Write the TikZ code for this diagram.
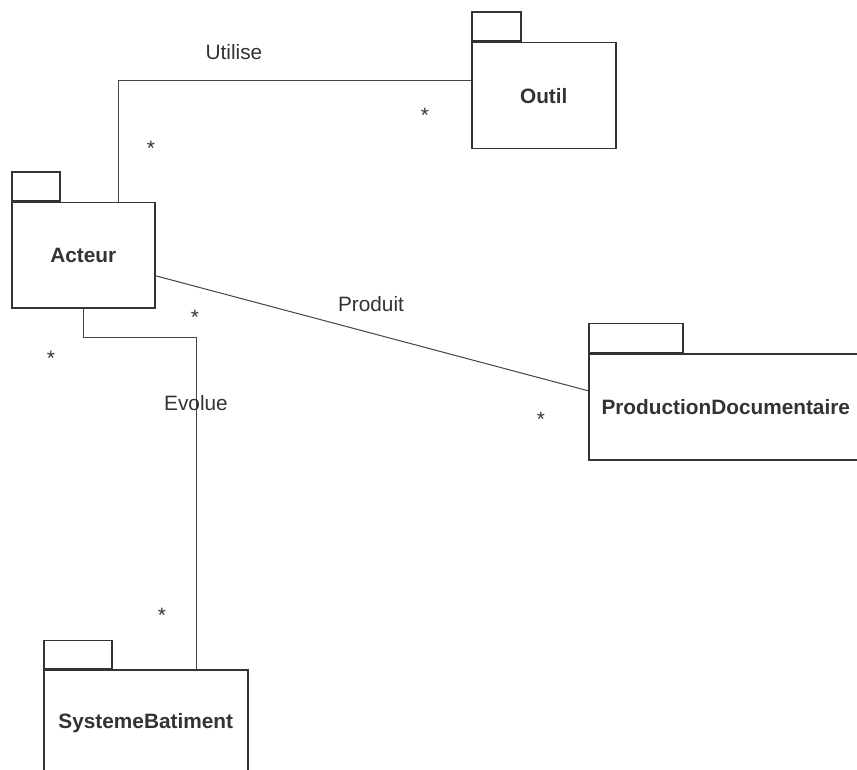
\documentclass[tikz,border=0pt]{standalone}
\usepackage{fontspec}
\setmainfont{Liberation Sans}
\begin{document}
\begin{tikzpicture}[x=1pt,y=-1pt,
  pkgbody/.style={draw=boxcol, line width=1.5pt, anchor=north west, inner sep=0pt,
    font=\fontsize{20.8}{24}\selectfont\bfseries, text=txtcol},
  pkgtab/.style={draw=boxcol, line width=1.5pt, anchor=south west, inner sep=0pt, minimum height=29pt},
  conn/.style={draw=linecol, line width=1pt},
  lbl/.style={font=\fontsize{20.8}{24}\selectfont, text=txtcol, inner sep=0pt},
  mult/.style={font=\fontsize{20.8}{24}\selectfont, text=txtcol, inner sep=0pt, anchor=base}]
\definecolor{boxcol}{HTML}{333333}
\definecolor{linecol}{HTML}{444444}
\definecolor{txtcol}{HTML}{333333}
\clip (0,0) rectangle (857,770);
\fill[white] (0,0) rectangle (857,770);

% packages
\node[pkgbody, minimum width=143pt, minimum height=105pt] (acteur) at (11,202) {Acteur};
\node[pkgtab, minimum width=48pt] (acteurtab) at (acteur.north west) {};

\node[pkgbody, minimum width=144pt, minimum height=106pt] (outil) at (471,42) {Outil};
\node[pkgtab, minimum width=49pt] (outiltab) at (outil.north west) {};

\node[pkgbody, minimum width=274pt, minimum height=106pt] (prod) at (588,353) {ProductionDocumentaire};
\node[pkgtab, minimum width=94pt] (prodtab) at (prod.north west) {};

\node[pkgbody, minimum width=204pt, minimum height=106pt] (sys) at (43,669) {SystemeBatiment};
\node[pkgtab, minimum width=68pt, minimum height=28pt] (systab) at (sys.north west) {};

% connectors
\draw[conn] ([xshift=107pt]acteur.north west) |- ([yshift=15pt]outil.west);
\draw[conn] ([yshift=-20.5pt]acteur.east) -- ([yshift=16pt]prod.west);
\coordinate (evbend) at ([xshift=72pt,yshift=-29pt]acteur.south west);
\draw[conn] ([xshift=72pt]acteur.south west) -- (evbend) -| ([xshift=153pt]sys.north west);

% labels
\node[lbl] (lutilise) at (234,52) {Utilise};
\node[lbl] (lproduit) at (371,304) {Produit};
\node[lbl] (levolue) at (196,403) {Evolue};

% multiplicities
\node[mult] (m1) at (151,156) {*};
\node[mult] (m2) at (425,123) {*};
\node[mult] (m3) at (195,324) {*};
\node[mult] (m4) at (541,426) {*};
\node[mult] (m5) at (51,365) {*};
\node[mult] (m6) at (162,622) {*};
\end{tikzpicture}
\end{document}
